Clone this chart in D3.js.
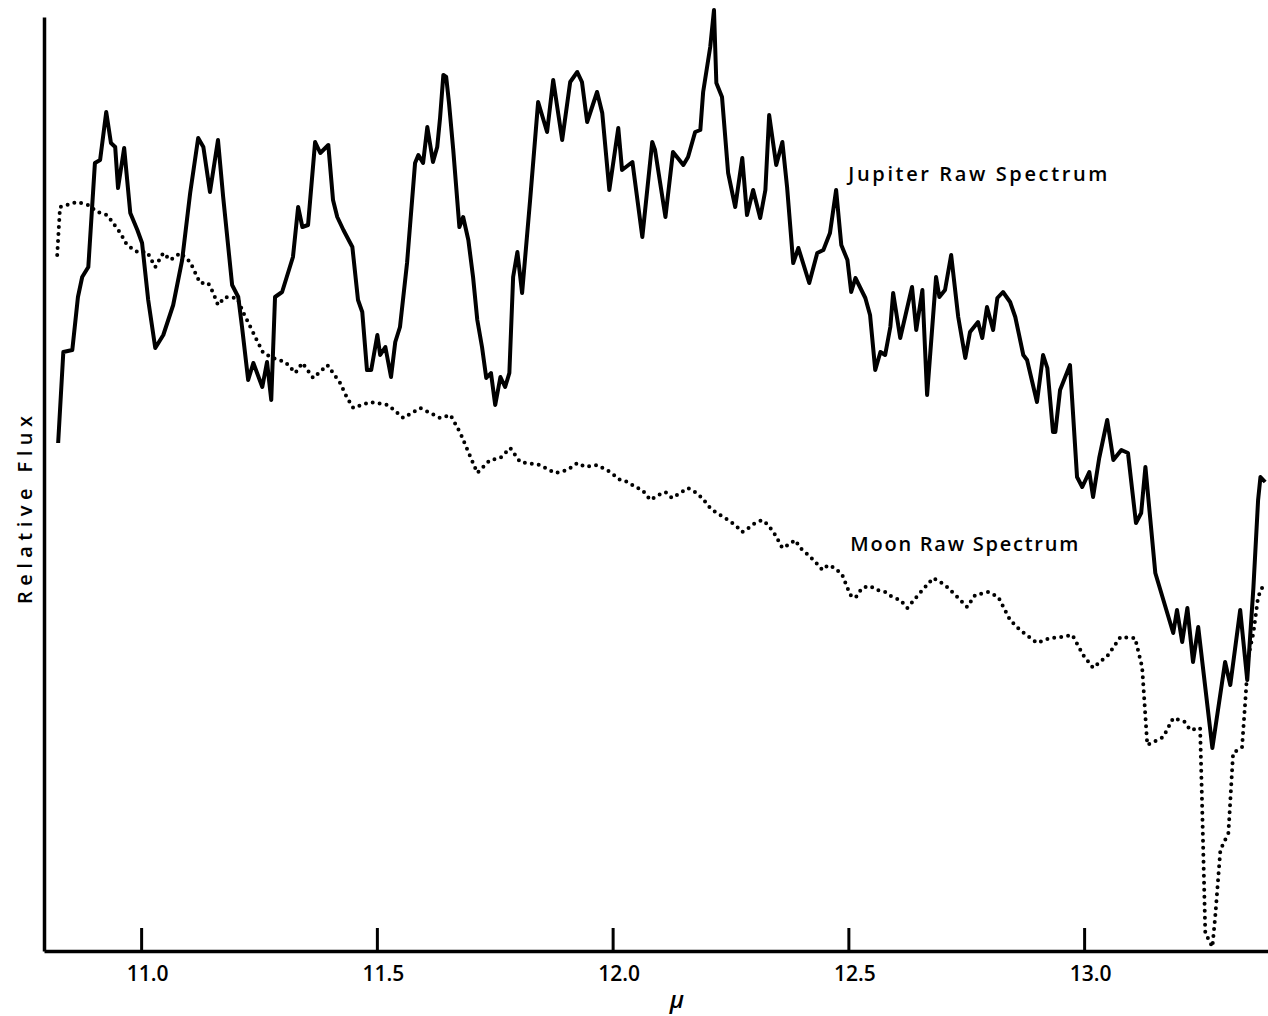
<html>
<head>
<script src="https://d3js.org/d3.v7.min.js"></script>
<style>
  body { margin: 0; background: #fff; }
  text { font-family: "Open Sans", "DejaVu Sans", sans-serif; font-weight: 600; fill: #000; }
</style>
</head>
<body>
<svg id="chart" width="1268" height="1016"></svg>
<script>
// Jupiter raw spectrum (solid): wavelength in microns, relative flux
const jupiterWl = [10.824,10.835,10.854,10.866,10.875,10.888,10.902,10.913,10.926,10.936,10.945,10.951,10.964,10.977,10.992,11.002,11.015,11.030,11.047,11.068,11.087,11.104,11.121,11.132,11.146,11.163,11.174,11.193,11.206,11.214,11.227,11.238,11.257,11.267,11.276,11.284,11.299,11.322,11.333,11.342,11.354,11.369,11.380,11.397,11.407,11.416,11.429,11.448,11.460,11.469,11.479,11.488,11.501,11.507,11.518,11.530,11.539,11.549,11.564,11.581,11.588,11.598,11.607,11.619,11.628,11.634,11.641,11.647,11.653,11.662,11.675,11.683,11.694,11.704,11.713,11.723,11.732,11.742,11.751,11.762,11.772,11.781,11.789,11.798,11.808,11.825,11.842,11.861,11.874,11.893,11.910,11.925,11.935,11.946,11.967,11.978,11.993,12.012,12.020,12.042,12.063,12.084,12.090,12.112,12.128,12.150,12.160,12.175,12.186,12.192,12.207,12.215,12.220,12.232,12.245,12.260,12.275,12.285,12.298,12.313,12.324,12.332,12.347,12.360,12.370,12.383,12.394,12.417,12.434,12.447,12.461,12.474,12.485,12.498,12.506,12.515,12.536,12.546,12.557,12.568,12.578,12.589,12.595,12.610,12.635,12.644,12.657,12.667,12.686,12.693,12.705,12.718,12.733,12.748,12.758,12.775,12.784,12.794,12.807,12.816,12.828,12.843,12.854,12.871,12.879,12.900,12.913,12.922,12.934,12.939,12.949,12.970,12.985,12.996,13.011,13.019,13.032,13.049,13.062,13.079,13.093,13.110,13.121,13.130,13.151,13.189,13.197,13.208,13.219,13.231,13.242,13.272,13.299,13.310,13.331,13.346,13.359,13.369,13.374,13.384];
const jupiterFlux = [508,599,601,654,674,684,788,791,839,808,804,763,803,738,721,708,651,603,616,646,691,758,813,804,759,811,754,666,654,624,571,588,564,589,551,654,659,694,744,724,726,809,798,806,751,734,721,704,651,639,581,581,616,596,604,574,609,624,688,788,796,788,824,789,804,833,876,874,848,801,724,734,711,674,631,604,573,578,546,574,564,578,674,699,658,751,849,819,871,811,869,879,869,829,859,838,761,823,781,789,714,809,801,734,799,786,794,819,821,859,904,941,868,854,778,744,793,736,761,733,761,836,786,809,764,688,703,668,698,701,718,761,706,691,659,673,653,636,581,599,596,624,658,613,664,621,661,556,674,654,661,696,634,593,619,629,613,644,621,653,659,649,634,596,591,549,596,583,519,519,561,586,474,464,479,454,493,531,491,501,498,428,438,484,378,318,341,309,343,289,324,203,289,266,341,271,363,451,474,469];

// Moon raw spectrum (dotted)
const moonWl = [10.822,10.828,10.864,10.888,10.907,10.928,10.939,10.956,10.970,10.992,11.013,11.030,11.047,11.062,11.083,11.104,11.125,11.142,11.153,11.163,11.178,11.204,11.216,11.238,11.259,11.280,11.306,11.327,11.342,11.365,11.395,11.422,11.437,11.450,11.486,11.524,11.556,11.592,11.634,11.656,11.677,11.694,11.713,11.740,11.762,11.783,11.804,11.846,11.878,11.904,11.925,11.942,11.967,11.995,12.016,12.033,12.048,12.063,12.080,12.097,12.112,12.126,12.143,12.160,12.175,12.190,12.207,12.218,12.228,12.245,12.260,12.275,12.288,12.302,12.317,12.330,12.345,12.360,12.372,12.387,12.398,12.415,12.430,12.445,12.457,12.472,12.487,12.504,12.515,12.529,12.546,12.561,12.578,12.593,12.610,12.625,12.648,12.680,12.705,12.727,12.752,12.769,12.797,12.818,12.843,12.864,12.900,12.928,12.954,12.975,12.998,13.019,13.051,13.077,13.108,13.123,13.134,13.168,13.189,13.214,13.225,13.246,13.250,13.257,13.272,13.278,13.289,13.306,13.316,13.335,13.342,13.348,13.359,13.369,13.380];
const moonFlux = [696,744,749,746,739,736,729,718,706,699,699,684,698,691,698,689,668,668,658,646,654,653,639,618,598,593,589,578,588,573,586,568,553,543,549,546,533,543,533,536,518,499,478,491,493,503,489,486,478,481,488,484,486,479,471,469,464,461,451,456,459,453,458,463,459,453,443,439,436,431,426,419,423,428,431,426,416,403,406,411,403,396,389,381,386,383,376,356,353,363,365,361,359,354,351,343,356,373,366,356,344,356,359,354,331,321,308,313,314,316,296,283,296,314,313,284,206,214,233,229,221,223,151,18,4,34,101,118,198,204,251,294,318,354,366];

const xTicks = [11.0, 11.5, 12.0, 12.5, 13.0];
const xTickLabels = ["11.0", "11.5", "12.0", "12.5", "13.0"];

const svg = d3.select("#chart");
const width = +svg.attr("width");

const x = d3.scaleLinear().domain([10.794, 13.390]).range([44, width]);
const y = d3.scaleLinear().domain([0, 934]).range([951, 17]);

const jupiter = jupiterWl.map((w, i) => ({ w: w, f: jupiterFlux[i] }));
const moon = moonWl.map((w, i) => ({ w: w, f: moonFlux[i] }));

const line = d3.line().x(d => x(d.w)).y(d => y(d.f));

// moon dotted curve
svg.append("path")
  .datum(moon)
  .attr("d", line)
  .attr("fill", "none")
  .attr("stroke", "#000")
  .attr("stroke-width", 4)
  .attr("stroke-linecap", "round")
  .attr("stroke-dasharray", "0 7");

// jupiter solid curve
svg.append("path")
  .datum(jupiter)
  .attr("d", line)
  .attr("fill", "none")
  .attr("stroke", "#000")
  .attr("stroke-width", 4)
  .attr("stroke-linejoin", "round");

// axes
const xAxis = svg.append("g")
  .attr("transform", `translate(0,${y(0)})`)
  .call(d3.axisBottom(x).tickValues(xTicks)
    .tickFormat((d, i) => xTickLabels[i])
    .tickSizeInner(-23).tickSizeOuter(0).tickPadding(15));
xAxis.select(".domain").attr("stroke-width", 3.5);
xAxis.selectAll(".tick line").attr("stroke-width", 3);
xAxis.selectAll(".tick text")
  .attr("font-size", 21)
  .attr("font-family", "Open Sans, DejaVu Sans, sans-serif")
  .attr("font-weight", 600)
  .attr("dx", 6)
  .attr("fill", "#000");

const yAxis = svg.append("g")
  .attr("transform", `translate(${x.range()[0]},0)`)
  .call(d3.axisLeft(y).tickValues([]).tickSizeOuter(0));
yAxis.select(".domain").attr("stroke-width", 3.5);

// axis titles
svg.append("text")
  .attr("x", 677).attr("y", 1008)
  .attr("text-anchor", "middle")
  .attr("font-size", 24)
  .attr("font-style", "italic")
  .text("μ");

svg.append("text")
  .attr("transform", "translate(32,510) rotate(-90)")
  .attr("text-anchor", "middle")
  .attr("font-size", 20)
  .attr("textLength", 188)
  .attr("lengthAdjust", "spacing")
  .text("Relative Flux");

// curve labels
svg.append("text")
  .attr("x", x(12.5)).attr("y", y(770))
  .attr("font-size", 20)
  .attr("textLength", 259)
  .attr("lengthAdjust", "spacing")
  .text("Jupiter Raw Spectrum");

svg.append("text")
  .attr("x", x(12.504)).attr("y", y(400))
  .attr("font-size", 20)
  .attr("textLength", 228)
  .attr("lengthAdjust", "spacing")
  .text("Moon  Raw Spectrum");
</script>
</body>
</html>
